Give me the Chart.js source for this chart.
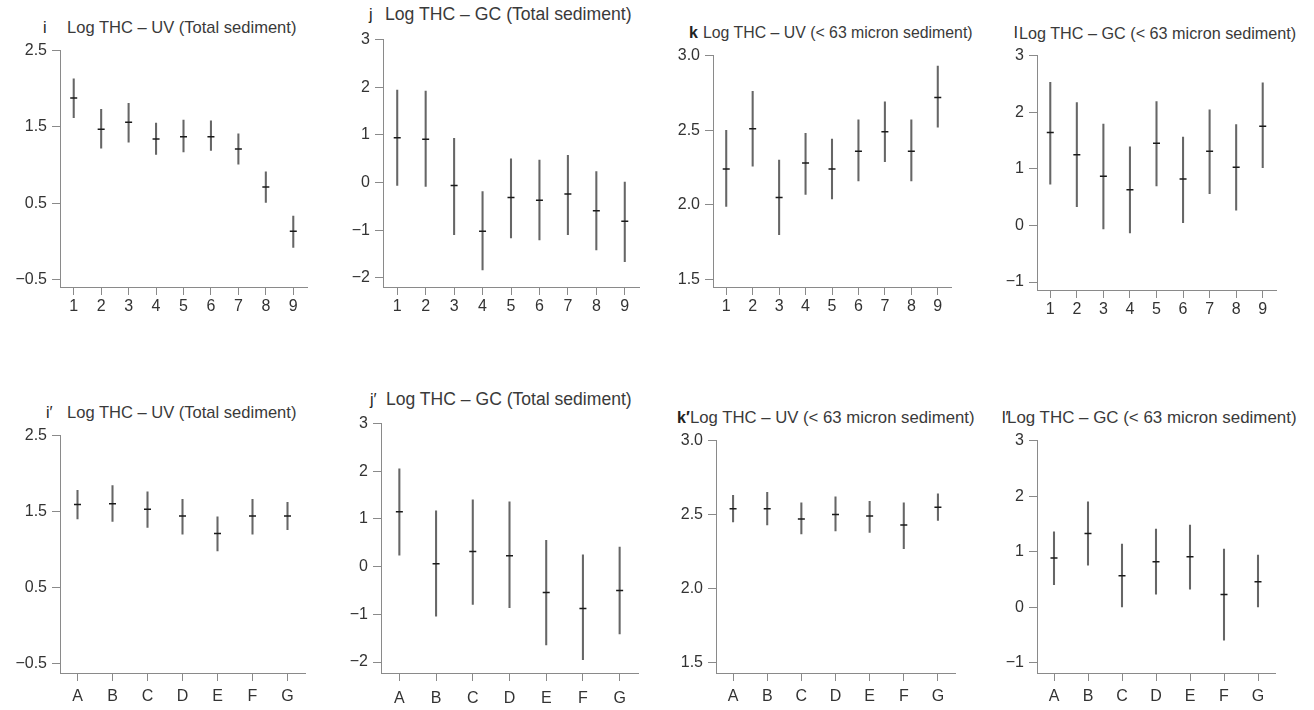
<!DOCTYPE html>
<html>
<head>
<meta charset="utf-8">
<script src="https://cdn.jsdelivr.net/npm/chart.js@4.4.0/dist/chart.umd.min.js"></script>
<style>
  body { margin: 0; width: 1314px; height: 710px; position: relative; overflow: hidden; background: #fff;
         font-family: "Liberation Sans", Arial, sans-serif; }
  canvas { position: absolute; }
  .ttl { position: absolute; white-space: nowrap; line-height: 1; color: #3a3a3a; }
  .tag { position: absolute; line-height: 1; color: #222; }
</style>
</head>
<body>
<script>
// station labels
const stations = ['1', '2', '3', '4', '5', '6', '7', '8', '9'];
const sites = ['A', 'B', 'C', 'D', 'E', 'F', 'G'];

// i: log THC by UV, total sediment
const iMean = [1.88, 1.47, 1.56, 1.34, 1.37, 1.37, 1.21, 0.71, 0.13];
const iLow  = [1.62, 1.22, 1.30, 1.14, 1.17, 1.19, 1.01, 0.51, -0.08];
const iHigh = [2.13, 1.73, 1.81, 1.55, 1.59, 1.58, 1.41, 0.91, 0.33];

// j: log THC by GC, total sediment
const jMean = [0.94, 0.91, -0.06, -1.02, -0.31, -0.37, -0.24, -0.59, -0.81];
const jLow  = [-0.06, -0.08, -1.09, -1.83, -1.16, -1.20, -1.09, -1.41, -1.66];
const jHigh = [1.94, 1.92, 0.93, -0.19, 0.50, 0.47, 0.57, 0.23, 0.01];

// k: log THC by UV, <63 micron fraction
const kMean = [2.24, 2.51, 2.05, 2.28, 2.24, 2.36, 2.49, 2.36, 2.72];
const kLow  = [1.99, 2.26, 1.80, 2.07, 2.04, 2.16, 2.29, 2.16, 2.52];
const kHigh = [2.50, 2.76, 2.30, 2.48, 2.44, 2.57, 2.69, 2.57, 2.93];

// l: log THC by GC, <63 micron fraction
const lMean = [1.64, 1.25, 0.87, 0.63, 1.45, 0.82, 1.31, 1.03, 1.75];
const lLow  = [0.73, 0.33, -0.06, -0.13, 0.70, 0.05, 0.56, 0.27, 1.02];
const lHigh = [2.53, 2.17, 1.79, 1.39, 2.19, 1.56, 2.04, 1.78, 2.52];

// i': same as i, grouped by site
const i2Mean = [1.59, 1.60, 1.53, 1.44, 1.21, 1.44, 1.44];
const i2Low  = [1.40, 1.37, 1.29, 1.20, 0.98, 1.20, 1.26];
const i2High = [1.78, 1.84, 1.76, 1.66, 1.43, 1.66, 1.62];

// j'
const j2Mean = [1.15, 0.06, 0.32, 0.23, -0.54, -0.88, -0.50];
const j2Low  = [0.24, -1.04, -0.79, -0.86, -1.64, -1.95, -1.41];
const j2High = [2.05, 1.17, 1.40, 1.36, 0.55, 0.25, 0.41];

// k'
const k2Mean = [2.54, 2.54, 2.47, 2.50, 2.49, 2.43, 2.55];
const k2Low  = [2.45, 2.43, 2.37, 2.39, 2.38, 2.27, 2.46];
const k2High = [2.63, 2.65, 2.58, 2.62, 2.59, 2.58, 2.64];

// l'
const l2Mean = [0.89, 1.33, 0.57, 0.82, 0.91, 0.23, 0.46];
const l2Low  = [0.41, 0.76, 0.01, 0.24, 0.33, -0.59, 0.00];
const l2High = [1.36, 1.90, 1.14, 1.41, 1.48, 1.05, 0.94];

// y tick values
const uvTotalTicks = [-0.5, 0.5, 1.5, 2.5];
const gcTotalTicks = [-2, -1, 0, 1, 2, 3];
const uvFineTicks = [1.5, 2.0, 2.5, 3.0];
const gcFineTicks = [-1, 0, 1, 2, 3];

const titleUVTotal = 'Log THC \u2013 UV (Total sediment)';
const titleGCTotal = 'Log THC \u2013 GC (Total sediment)';
const titleUVFine = 'Log THC \u2013 UV (< 63 micron sediment)';
const titleGCFine = 'Log THC \u2013 GC (< 63 micron sediment)';

// plot boxes in page pixels, plus title placement
const panels = [
  { labels: stations, mean: iMean, low: iLow, high: iHigh, ticks: uvTotalTicks, dec: 1, min: -0.6, max: 2.5,
    L: 60, R: 307, T: 48, B: 287, tag: 'i', tagX: 43, title: titleUVTotal, tx: 67, tw: 230, ty: 28, lblPad: 2 },
  { labels: stations, mean: jMean, low: jLow, high: jHigh, ticks: gcTotalTicks, dec: 0, min: -2.19, max: 3,
    L: 382.5, R: 638.5, T: 37, B: 287, tag: 'j', tagX: 369, title: titleGCTotal, tx: 385, tw: 247, ty: 15, lblPad: 2 },
  { labels: stations, mean: kMean, low: kLow, high: kHigh, ticks: uvFineTicks, dec: 1, min: 1.45, max: 3.0,
    L: 712.7, R: 951, T: 53, B: 287, tag: 'k', bold: true, tagX: 689, title: titleUVFine, tx: 703, tw: 270, ty: 33, lblPad: 2 },
  { labels: stations, mean: lMean, low: lLow, high: lHigh, ticks: gcFineTicks, dec: 0, min: -1.14, max: 3,
    L: 1037, R: 1276, T: 53, B: 290, tag: 'l', tagX: 1014, title: titleGCFine, tx: 1019, tw: 278, ty: 33, lblPad: 2 },
  { labels: sites, mean: i2Mean, low: i2Low, high: i2High, ticks: uvTotalTicks, dec: 1, min: -0.63, max: 2.5,
    L: 60, R: 305, T: 433, B: 673, tag: 'i\u2032', tagX: 46, title: titleUVTotal, tx: 67, tw: 230, ty: 413, lblPad: 6 },
  { labels: sites, mean: j2Mean, low: j2Low, high: j2High, ticks: gcTotalTicks, dec: 0, min: -2.23, max: 3,
    L: 381, R: 638, T: 421, B: 673, tag: 'j\u2032', tagX: 370, title: titleGCTotal, tx: 386, tw: 246, ty: 400, lblPad: 8 },
  { labels: sites, mean: k2Mean, low: k2Low, high: k2High, ticks: uvFineTicks, dec: 1, min: 1.43, max: 3.0,
    L: 715.5, R: 954, T: 438, B: 673, tag: 'k\u2032', bold: true, tagX: 677, title: titleUVFine, tx: 690, tw: 285, ty: 418, lblPad: 6 },
  { labels: sites, mean: l2Mean, low: l2Low, high: l2High, ticks: gcFineTicks, dec: 0, min: -1.18, max: 3,
    L: 1036.5, R: 1274.5, T: 438, B: 673, tag: 'l\u2032', tagX: 1002, title: titleGCFine, tx: 1007, tw: 290, ty: 418, lblPad: 6 }
];

const AXIS = '#8a8a8a';
const INK = '#333';
const TICK_FONT = { family: 'Liberation Sans', size: 16 };
const PAD_L = 62, PAD_T = 12, PAD_R = 12, AX_H = 40;

function fmt(v, dec) {
  const s = Math.abs(v).toFixed(dec);
  return v < 0 ? '\u2212' + s : s;
}

const measure = document.createElement('canvas').getContext('2d');

function addTitle(p) {
  const tag = document.createElement('div');
  tag.className = 'tag';
  tag.textContent = p.tag;
  tag.style.left = p.tagX + 'px';
  tag.style.top = (p.ty - 8) + 'px';
  tag.style.fontSize = '16px';
  if (p.bold) tag.style.fontWeight = 'bold';
  document.body.appendChild(tag);

  // size the caption so it spans the same width as in the figure
  measure.font = '15px "Liberation Sans"';
  const size = 15 * p.tw / measure.measureText(p.title).width;
  const t = document.createElement('div');
  t.className = 'ttl';
  t.textContent = p.title;
  t.style.left = p.tx + 'px';
  t.style.top = (p.ty - size / 2) + 'px';
  t.style.fontSize = size.toFixed(2) + 'px';
  document.body.appendChild(t);
}

function makePanel(p) {
  const cv = document.createElement('canvas');
  const w = Math.round(p.R - p.L + PAD_L + PAD_R);
  const h = Math.round(p.B - p.T + PAD_T + AX_H);
  cv.width = w; cv.height = h;
  cv.style.width = w + 'px'; cv.style.height = h + 'px';
  cv.style.left = (p.L - PAD_L) + 'px';
  cv.style.top = (p.T - PAD_T) + 'px';
  document.body.appendChild(cv);

  new Chart(cv, {
    type: 'bar',
    data: {
      labels: p.labels,
      datasets: [
        {
          // range of each station as a thin floating bar
          data: p.low.map((v, i) => [v, p.high[i]]),
          backgroundColor: '#666',
          barThickness: 1.4,
          order: 2
        },
        {
          // mean as a short horizontal dash
          type: 'line',
          data: p.mean,
          showLine: false,
          pointStyle: 'line',
          pointRadius: 3.5,
          pointBorderWidth: 1.5,
          borderColor: '#1a1a1a',
          order: 1
        }
      ]
    },
    options: {
      responsive: false,
      animation: false,
      devicePixelRatio: 1,
      layout: { padding: { left: 0, top: PAD_T, right: PAD_R, bottom: 0 } },
      plugins: { legend: { display: false }, tooltip: { enabled: false } },
      scales: {
        x: {
          offset: true,
          grid: { offset: false, drawOnChartArea: false, tickLength: 8, color: AXIS, lineWidth: 1 },
          border: { color: AXIS, width: 1 },
          ticks: { color: INK, padding: p.lblPad, font: TICK_FONT, maxRotation: 0 },
          afterFit: s => { s.height = AX_H; }
        },
        y: {
          min: p.min,
          max: p.max,
          afterBuildTicks: s => { s.ticks = p.ticks.map(v => ({ value: v })); },
          grid: { drawOnChartArea: false, tickLength: 8, color: AXIS, lineWidth: 1 },
          border: { color: AXIS, width: 1 },
          ticks: { color: INK, padding: 5, font: TICK_FONT, callback: v => fmt(v, p.dec) },
          afterFit: s => { s.width = PAD_L; }
        }
      }
    }
  });
}

panels.forEach(p => { addTitle(p); makePanel(p); });
</script>
</body>
</html>
